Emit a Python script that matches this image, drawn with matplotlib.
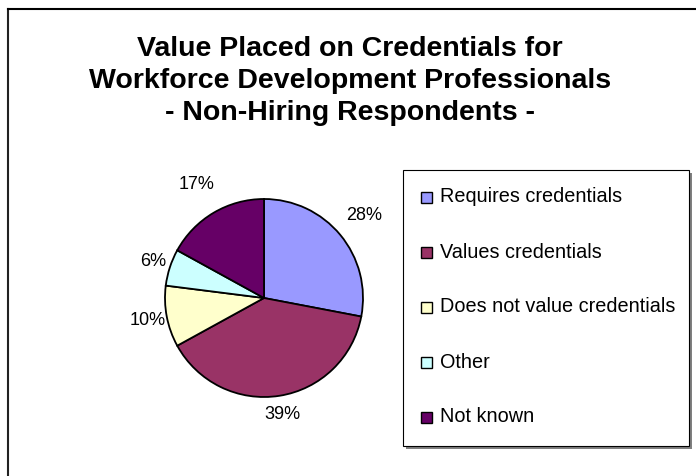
import numpy as np
import matplotlib
matplotlib.use("Agg")
import matplotlib.pyplot as plt
from matplotlib.patches import Rectangle
from matplotlib.lines import Line2D

plt.rcParams['font.family'] = ['Liberation Sans', 'DejaVu Sans']

# Survey shares, clockwise from 12 o'clock
categories = ["Requires credentials", "Values credentials",
              "Does not value credentials", "Other", "Not known"]
shares = [28, 39, 10, 6, 17]
colors = ["#9999FF", "#993366", "#FFFFCC", "#CCFFFF", "#660066"]
title_lines = ["Value Placed on Credentials for",
               "Workforce Development Professionals",
               "- Non-Hiring Respondents -"]

W, H = 696, 476
fig = plt.figure(figsize=(W / 100, H / 100), dpi=100)


def fx(x):
    return x / W


def fy(y):
    return 1 - y / H


# chart area border (only left and top fall inside the image)
fig.add_artist(Line2D([fx(8), fx(8)], [fy(9), fy(480)], color="#222222", lw=1.5,
                      transform=fig.transFigure))
fig.add_artist(Line2D([fx(8), fx(700)], [fy(9), fy(9)], color="black", lw=1.5,
                      transform=fig.transFigure))

# title, one line at a time
for i, line in enumerate(title_lines):
    fig.text(fx(350), fy(49 + 32 * i), line, ha="center", va="center",
             fontsize=20.5, fontweight="bold")

# pie
cx, cy, r = 264, 298, 99
ax = fig.add_axes([fx(cx - r), fy(cy + r), 2 * r / W, 2 * r / H])
wedges, _, autotexts = ax.pie(
    shares, colors=colors, startangle=90, counterclock=False,
    autopct=lambda p: f"{p:.0f}%",
    wedgeprops=dict(edgecolor="black", linewidth=1.3),
    textprops=dict(fontsize=13))

# push the percent labels outside the rim
label_dist = [1.31, 1.19, 1.2, 1.18, 1.33]
for w, t, d in zip(wedges, autotexts, label_dist):
    mid = np.deg2rad((w.theta1 + w.theta2) / 2)
    t.set_position((d * np.cos(mid), d * np.sin(mid)))
    t.set_ha("center")
    t.set_va("center")

ax.set_xlim(-1, 1)
ax.set_ylim(-1, 1)
ax.set_aspect("equal")
ax.axis("off")

# legend box with drop shadow
lx0, ly0, lx1, ly1 = 403, 170, 689, 446
fig.add_artist(Rectangle((fx(lx0 + 3), fy(ly1 + 3)), (lx1 - lx0) / W, (ly1 - ly0) / H,
                         transform=fig.transFigure, facecolor="#808080",
                         edgecolor="none", zorder=1))
fig.add_artist(Rectangle((fx(lx0), fy(ly1)), (lx1 - lx0) / W, (ly1 - ly0) / H,
                         transform=fig.transFigure, facecolor="white",
                         edgecolor="black", lw=0.8, zorder=2))
for i, (name, c) in enumerate(zip(categories, colors)):
    yc = 197 + 55 * i
    fig.add_artist(Rectangle((fx(421), fy(yc + 5.5)), 11 / W, 11 / H,
                             transform=fig.transFigure, facecolor=c,
                             edgecolor="black", lw=1.0, zorder=3))
    fig.text(fx(440), fy(yc), name, ha="left", va="center", fontsize=14.3, zorder=3)

fig.savefig("out.png", dpi=100)
